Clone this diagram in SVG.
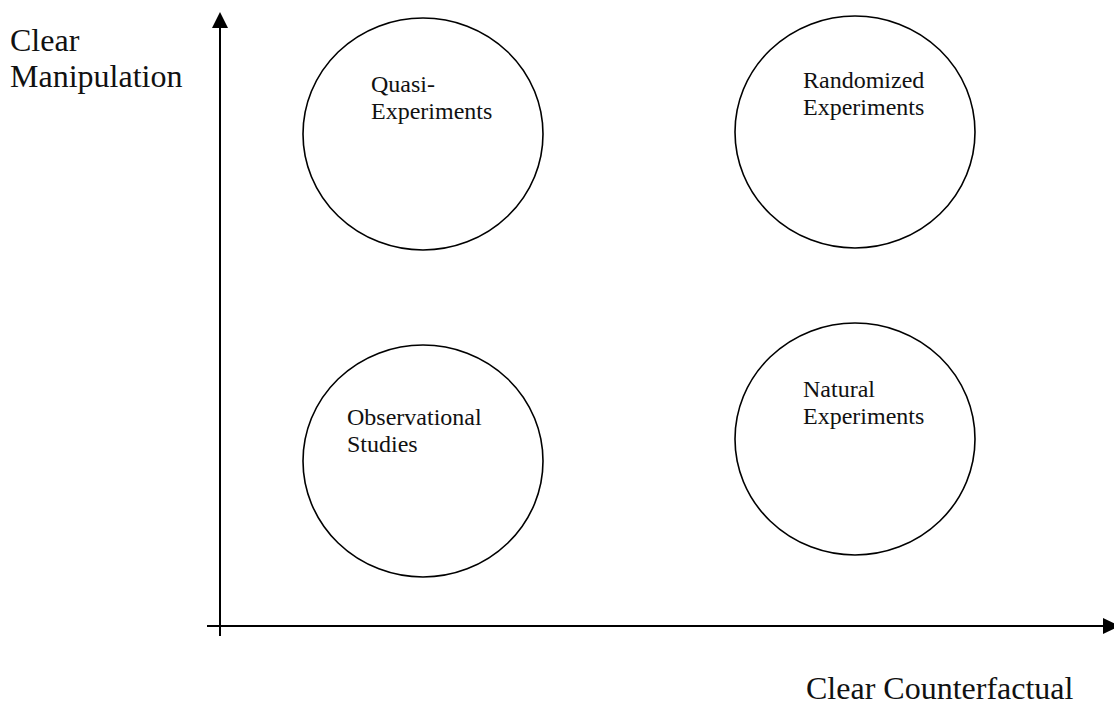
<svg xmlns="http://www.w3.org/2000/svg" width="1114" height="704" viewBox="0 0 1114 704">
  <style>
    .bubble { fill: none; stroke: #000; stroke-width: 1.6; }
    .axis { stroke: #000; stroke-width: 2; fill: none; }
    .head { fill: #000; stroke: none; }
    .lbl { font-family: "Liberation Serif", "Times New Roman", serif; font-size: 24px; fill: #111; }
    .axlbl { font-family: "Liberation Serif", "Times New Roman", serif; font-size: 32px; fill: #111; }
  </style>
  <rect width="1114" height="704" fill="#fff"/>

  <!-- axes -->
  <g id="connectors">
    <line class="axis" x1="220" y1="636" x2="220" y2="26"/>
    <polygon class="head" points="220,12 212,28 228,28"/>
    <line class="axis" x1="207" y1="626" x2="1104" y2="626"/>
    <polygon class="head" points="1120,626 1103,618 1103,634"/>
  </g>

  <!-- axis titles -->
  <g id="y-label">
    <text class="axlbl" x="10" y="51">Clear</text>
    <text class="axlbl" x="10" y="87">Manipulation</text>
  </g>
  <g id="x-label">
    <text class="axlbl" x="806" y="699">Clear Counterfactual</text>
  </g>

  <!-- quadrant categories -->
  <g id="quasi-experiments">
    <ellipse class="bubble" cx="423" cy="134" rx="120" ry="116"/>
    <text class="lbl" x="371" y="92">Quasi-</text>
    <text class="lbl" x="371" y="119">Experiments</text>
  </g>
  <g id="randomized-experiments">
    <ellipse class="bubble" cx="855" cy="132" rx="120" ry="116"/>
    <text class="lbl" x="803" y="88">Randomized</text>
    <text class="lbl" x="803" y="115">Experiments</text>
  </g>
  <g id="observational-studies">
    <ellipse class="bubble" cx="423" cy="461" rx="120" ry="116"/>
    <text class="lbl" x="347" y="425">Observational</text>
    <text class="lbl" x="347" y="452">Studies</text>
  </g>
  <g id="natural-experiments">
    <ellipse class="bubble" cx="855" cy="439" rx="120" ry="116"/>
    <text class="lbl" x="803" y="397">Natural</text>
    <text class="lbl" x="803" y="424">Experiments</text>
  </g>
</svg>
